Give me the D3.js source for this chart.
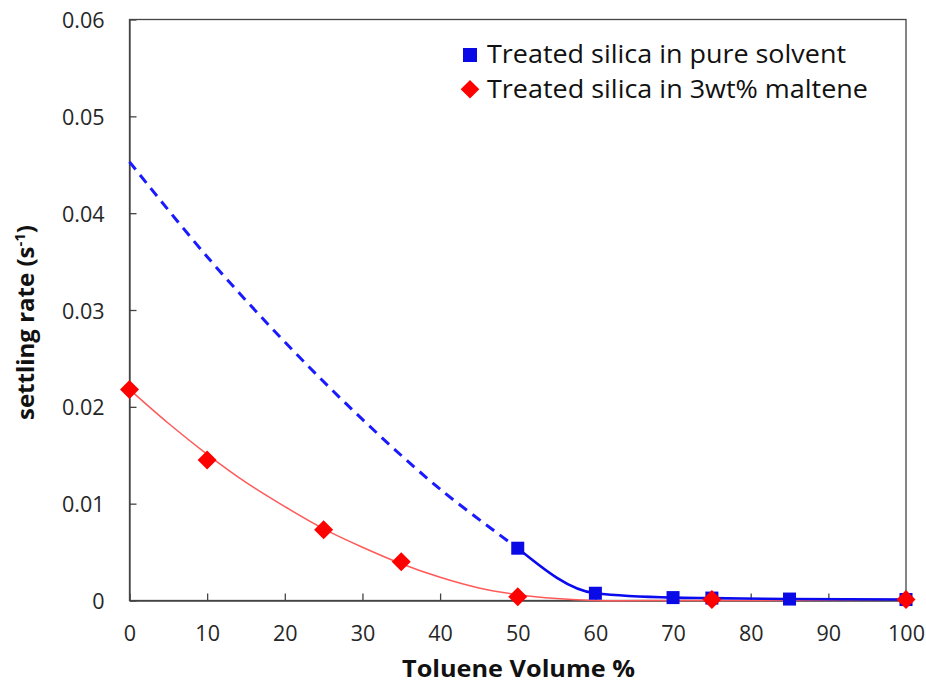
<!DOCTYPE html>
<html><head><meta charset="utf-8">
<script src="https://cdn.jsdelivr.net/npm/d3@7"></script>
<style>body{margin:0;background:#fff}svg{display:block}text{font-family:"Open Sans",Lato,sans-serif}</style>
</head><body><svg id="c" width="926" height="684"></svg>
<script>
// Data
const xTicks = [0,10,20,30,40,50,60,70,80,90,100];
const yTicks = [0,0.01,0.02,0.03,0.04,0.05,0.06];
const pureX = [50,60,70,75,85,100];
const pureY = [0.0054,0.00075,0.0003,0.00025,0.00015,0.0001];
const pureDashX = [0,10,20,30,40,50];
const pureDashY = [0.0453,0.0355,0.0267,0.0187,0.0115,0.0054];
const maltX = [0,10,25,35,50,75,100];
const maltY = [0.0218,0.0145,0.0073,0.004,0.0004,0.0001,0.0001];
const maltFitX = [0,5,10,15,20,25,30,35,40,45,50,55,60,70,80,90,100];
const maltFitY = [0.0218,0.0183,0.0151,0.0122,0.0097,0.0074,0.0055,0.0038,0.0024,0.0013,0.0006,0.0002,0,0,0,0.00005,0.0001];
const seriesNames = ["Treated silica in pure solvent","Treated silica in 3wt% maltene"];

const svg = d3.select("#c");
const L=129.5, R=906, T=19.5, B=600.5;
const x = d3.scaleLinear().domain([0,100]).range([L,R]);
const y = d3.scaleLinear().domain([0,0.06]).range([B,T]);
const zip = (a,b)=>a.map((v,i)=>[v,b[i]]);
const FONT = "'Open Sans',Lato,sans-serif";

// frame
svg.append("rect").attr("x",L).attr("y",T).attr("width",R-L).attr("height",B-T)
  .attr("fill","none").attr("stroke","#444").attr("stroke-width",1.3);

// axes with inner ticks
const xa = svg.append("g").attr("transform",`translate(0,${B})`)
  .call(d3.axisBottom(x).tickValues(xTicks).tickSizeInner(-7).tickSizeOuter(0).tickFormat(d3.format("d")));
const ya = svg.append("g").attr("transform",`translate(${L},0)`)
  .call(d3.axisLeft(y).tickValues(yTicks).tickSizeInner(-7).tickSizeOuter(0).tickPadding(25).tickFormat(d=>d===0?"0":d3.format(".2f")(d)));
[xa,ya].forEach(g=>{g.select(".domain").attr("stroke","#444").attr("stroke-width",1.3);
  g.selectAll(".tick line").attr("stroke","#444").attr("stroke-width",1.3);
  g.selectAll("text").attr("font-size",21.5).attr("fill","#262626").style("font-family",FONT);});
xa.selectAll("text").attr("dy",null).attr("y",40.5);
ya.selectAll("text").attr("dy",null).attr("y",8);

// lines
const line = d3.line().x(d=>x(d[0])).y(d=>y(d[1]));
svg.append("path").datum(zip(maltFitX,maltFitY)).attr("d",line.curve(d3.curveCatmullRom))
  .attr("fill","none").attr("stroke","#ff5a5a").attr("stroke-width",1.5);
svg.append("path").datum(zip(pureDashX,pureDashY)).attr("d",d3.line().x(d=>x(d[0])).y(d=>y(d[1])).curve(d3.curveCatmullRom))
  .attr("fill","none").attr("stroke","#1a1aff").attr("stroke-width",3).attr("stroke-dasharray","10,7");
svg.append("path").datum(zip(pureX,pureY)).attr("d",d3.line().x(d=>x(d[0])).y(d=>y(d[1])).curve(d3.curveMonotoneX))
  .attr("fill","none").attr("stroke","#0a0aee").attr("stroke-width",2.6);

// markers
const s=13;
svg.append("g").selectAll("rect").data(zip(pureX,pureY)).join("rect")
  .attr("x",d=>x(d[0])-s/2).attr("y",d=>y(d[1])-s/2).attr("width",s).attr("height",s).attr("fill","#0a0ae6");
const dm=9.5;
svg.append("g").selectAll("path").data(zip(maltX,maltY)).join("path")
  .attr("d",d=>`M${x(d[0])},${y(d[1])-dm}L${x(d[0])+dm},${y(d[1])}L${x(d[0])},${y(d[1])+dm}L${x(d[0])-dm},${y(d[1])}Z`)
  .attr("fill","#ff0000");

// legend
const lg = svg.append("g");
lg.append("rect").attr("x",463).attr("y",48).attr("width",14).attr("height",14).attr("fill","#0a0ae6");
lg.append("path").attr("d","M470,80L479.3,89.2L470,98.4L460.7,89.2Z").attr("fill","#ff0000");
lg.append("text").attr("x",487).attr("y",63).attr("font-size",25).attr("fill","#111")
  .attr("textLength",359).attr("lengthAdjust","spacingAndGlyphs").text(seriesNames[0]);
lg.append("text").attr("x",487).attr("y",98).attr("font-size",25).attr("fill","#111")
  .attr("textLength",381).attr("lengthAdjust","spacingAndGlyphs").text(seriesNames[1]);

// axis titles
svg.append("text").attr("x",402).attr("y",677).attr("font-size",23)
  .attr("font-weight","bold").attr("fill","#111").attr("textLength",233).attr("lengthAdjust","spacingAndGlyphs").text("Toluene Volume %");
const yt = svg.append("text").attr("transform","translate(34,420) rotate(-90)")
  .attr("font-size",24).attr("font-weight","bold").attr("fill","#111");
yt.append("tspan").text("settling rate (s");
yt.append("tspan").attr("dy",-9).attr("font-size",15).text("-1");
yt.append("tspan").attr("dy",9).text(")");
</script></body></html>
